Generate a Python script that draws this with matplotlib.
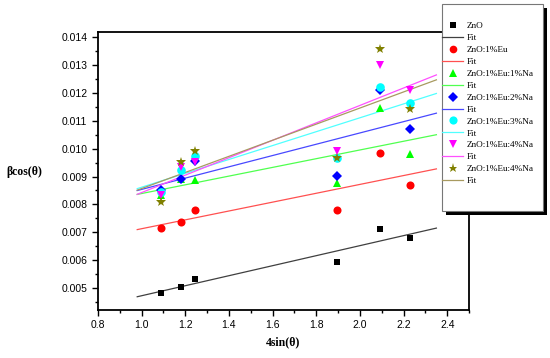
import numpy as np
import matplotlib.pyplot as plt
from matplotlib.ticker import MultipleLocator
from matplotlib.patches import Rectangle

# ---------------------------------
#  data
# ---------------------------------
x_pos = [1.09, 1.18, 1.245, 1.895, 2.09, 2.23]

labels = ["ZnO", "ZnO:1%Eu", "ZnO:1%Eu:1%Na", "ZnO:1%Eu:2%Na",
          "ZnO:1%Eu:3%Na", "ZnO:1%Eu:4%Na", "ZnO:1%Eu:4%Na"]

znO      = [0.00483, 0.00502, 0.00530, 0.00592, 0.00713, 0.00680]
eu1      = [0.00715, 0.00738, 0.00779, 0.00781, 0.00985, 0.00870]
eu1_na1  = [0.00835, 0.00890, 0.00889, 0.00875, 0.01148, 0.00980]
eu1_na2  = [0.00850, 0.00890, 0.00955, 0.00902, 0.01210, 0.01072]
eu1_na3  = [0.00845, 0.00925, 0.00975, 0.00968, 0.01222, 0.01165]
eu1_na4  = [0.00833, 0.00935, 0.00952, 0.00990, 0.01300, 0.01212]
eu1_na4b = [0.00808, 0.00953, 0.00991, 0.00968, 0.01357, 0.01143]

series = [znO, eu1, eu1_na1, eu1_na2, eu1_na3, eu1_na4, eu1_na4b]

markers = ["s", "o", "^", "D", "o", "v", "*"]
msizes = [4.8, 5.8, 6.2, 5.2, 6.2, 6.2, 7]
mcolors = ["black", "red", "#00ff00", "blue", "cyan", "magenta", "#808000"]
lcolors = ["#404040", "#ff5050", "#50ff50", "#4848ff", "#50ffff", "#ff50ff", "#a89a60"]

fit_x = np.array([0.98, 2.35])

# ---------------------------------
#  plot
# ---------------------------------
fig = plt.figure(figsize=(5.5, 3.58), dpi=100)
ax = fig.add_axes([0.178, 0.134, 0.675, 0.777])

handles = []
for y, lab, m, ms, mc, lc in zip(series, labels, markers, msizes, mcolors, lcolors):
    h1, = ax.plot(x_pos, y, linestyle="none", marker=m, ms=ms, color=mc,
                  markeredgewidth=0, label=lab, zorder=3)
    k, b = np.polyfit(x_pos, y, 1)
    h2, = ax.plot(fit_x, k * fit_x + b, color=lc, lw=0.9, label="Fit", zorder=2)
    handles += [h1, h2]

ax.set_xlim(0.8, 2.5)
ax.set_ylim(0.0042, 0.0142)
ax.xaxis.set_major_locator(MultipleLocator(0.2))
ax.xaxis.set_minor_locator(MultipleLocator(0.1))
ax.yaxis.set_major_locator(MultipleLocator(0.001))
ax.yaxis.set_minor_locator(MultipleLocator(0.0005))
ax.xaxis.set_major_formatter(plt.FuncFormatter(lambda v, p: f"{v:.1f}"))
ax.yaxis.set_major_formatter(plt.FuncFormatter(lambda v, p: f"{v:.3f}"))

ax.tick_params(which="both", direction="out", top=False, right=False,
               labelsize=7.5, width=1.0)
ax.tick_params(which="major", length=4)
ax.tick_params(which="minor", length=2)
for lbl in ax.get_xticklabels() + ax.get_yticklabels():
    lbl.set_family("Liberation Sans")
for sp in ax.spines.values():
    sp.set_linewidth(1.3)

ax.set_xlabel("4sin(θ)", family="Liberation Serif", fontweight="bold", fontsize=8.5)
fig.text(0.045, 0.52, "βcos(θ)", family="Liberation Serif", fontweight="bold",
         fontsize=8.5, ha="center", va="center")

# legend box with black drop shadow (drawn by hand, Origin style)
W, H = 550.0, 358.0
x0, y0, w, h = 442 / W, 1 - 211 / H, 101 / W, 207 / H
fig.patches.append(Rectangle((x0 + 4 / W, y0 - 4 / H), w, h, transform=fig.transFigure,
                             facecolor="black", edgecolor="none", zorder=4))
fig.patches.append(Rectangle((x0, y0), w, h, transform=fig.transFigure,
                             facecolor="white", edgecolor="#777777", lw=0.8, zorder=5))

leg = fig.legend(handles=handles, loc="upper left", bbox_to_anchor=(x0, 1 - 22 / H),
                 prop={"family": "Liberation Serif", "size": 6.6},
                 frameon=False, handlelength=2.3, handletextpad=0.4,
                 labelspacing=0.38, borderpad=0, borderaxespad=0, markerscale=0.95)
leg.set_zorder(6)

fig.savefig("out.png", dpi=100)
